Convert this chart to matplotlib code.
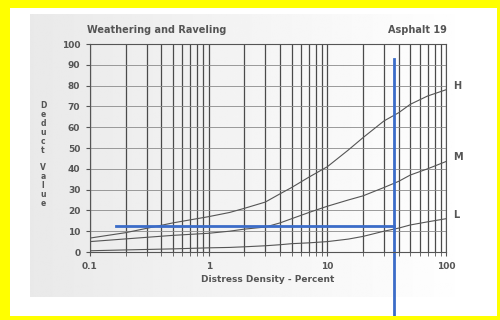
import numpy as np
import matplotlib
matplotlib.use("Agg")
import matplotlib.pyplot as plt
from matplotlib.patches import Rectangle
from matplotlib.ticker import LogLocator, NullFormatter, FixedLocator

# distress density (percent) and deduct values
density = [0.1, 0.2, 0.5, 1, 1.5, 2, 3, 4, 5, 7, 10, 15, 20, 30, 40, 50, 70, 100]
high = [6.7, 9.3, 14, 17, 19, 21, 24, 28, 31, 36, 41, 49, 55, 63, 67, 71, 75, 78]
medium = [5, 6.3, 8, 9, 10, 11, 12, 14, 16, 19, 22, 25, 27, 31, 34, 37, 40, 43.5]
low = [0.6, 1, 1.5, 2, 2.2, 2.5, 3, 3.5, 4, 4.4, 5, 6.2, 7.5, 10, 11.5, 13, 14.5, 16]
severity = ["H", "M", "L"]

# the blue reading drawn over the chart
read_density = 36.4
read_deduct = 12.5
read_start = 0.165
read_top = 93

fig = plt.figure(figsize=(5, 3.2), dpi=100)
fig.patch.set_facecolor("white")

# scanned page background with a grey fade on the left
bg = fig.add_axes([0.06, 0.072, 0.89, 0.885], zorder=-2)
grad = np.linspace(0.86, 1.0, 256) ** 0.6
bg.imshow(np.tile(grad, (10, 1)), cmap="gray", vmin=0, vmax=1, aspect="auto",
          extent=[0, 1, 0, 1])
bg.set_axis_off()

# yellow frame
for r in [(0, 0, 0.02, 1), (0, 0, 1, 0.013), (0, 0.975, 1, 0.025), (0.994, 0, 0.006, 1)]:
    fig.patches.append(Rectangle(r[:2], r[2], r[3], transform=fig.transFigure,
                                 facecolor="#ffff00", edgecolor="none", zorder=5))

ax = fig.add_axes([0.18, 0.2125, 0.712, 0.65])
ax.set_facecolor("none")
ax.set_xscale("log")
ax.set_xlim(0.1, 100)
ax.set_ylim(0, 100)

ax.xaxis.set_major_locator(FixedLocator([0.1, 1, 10, 100]))
ax.xaxis.set_minor_locator(LogLocator(base=10, subs=np.arange(2, 10)))
ax.xaxis.set_minor_formatter(NullFormatter())
ax.set_xticklabels(["0.1", "1", "10", "100"])
ax.set_yticks(range(0, 101, 10))

ax.grid(True, which="both", axis="x", color="#4a4a4a", lw=0.9)
ax.grid(True, which="major", axis="y", color="#8a8a8a", lw=0.6)
ax.tick_params(axis="both", which="both", direction="out", length=3,
               color="#555555", labelsize=6.5, labelcolor="#555555", pad=4)
for s in ax.spines.values():
    s.set_color("#555555")
    s.set_linewidth(0.8)
for t in ax.get_xticklabels() + ax.get_yticklabels():
    t.set_fontweight("bold")

for vals, lab in zip([high, medium, low], severity):
    ax.plot(density, vals, color="#555555", lw=0.8)
    ax.text(115, vals[-1] + 2, lab, fontsize=7, fontweight="bold", color="#555555",
            ha="left", va="center")

ax.plot([read_start, read_density], [read_deduct, read_deduct], color="#3b6cc8", lw=2)
ax.plot([read_density, read_density], [read_top, -34], color="#3b6cc8", lw=2,
        clip_on=False)

ax.set_xlabel("Distress Density - Percent", fontsize=6.5, fontweight="bold",
              color="#555555", labelpad=3)
fig.text(0.174, 0.905, "Weathering and Raveling", fontsize=7, fontweight="bold",
         color="#555555", ha="left", va="center")
fig.text(0.894, 0.905, "Asphalt 19", fontsize=7, fontweight="bold",
         color="#555555", ha="right", va="center")
fig.text(0.086, 0.6, "\n".join("Deduct"), fontsize=5.5, fontweight="bold",
         color="#555555", ha="center", va="center", linespacing=1.0)
fig.text(0.086, 0.42, "\n".join("Value"), fontsize=5.5, fontweight="bold",
         color="#555555", ha="center", va="center", linespacing=1.0)

fig.savefig("out.png", dpi=100)
